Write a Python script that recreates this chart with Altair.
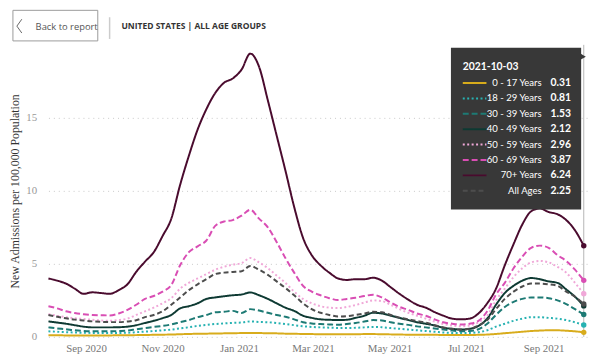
import altair as alt
import pandas as pd

# ---------------- data ----------------
series = ["0 - 17 Years", "18 - 29 Years", "30 - 39 Years", "40 - 49 Years",
          "50 - 59 Years", "60 - 69 Years", "70+ Years", "All Ages"]
colors = ["#D8AC1C", "#27B2B2", "#1D7A74", "#0E3A33",
          "#F0A8D8", "#D94EB4", "#4A0B2E", "#4D4D4D"]
dashes = [[1, 0], [2, 2.5], [6, 3], [1, 0], [2, 2.5], [6, 3], [1, 0], [5, 3]]

dates = pd.date_range("2020-08-02", "2021-10-03", freq="7D")

a0_17 = [0.11, 0.11, 0.10, 0.10, 0.10, 0.10, 0.10, 0.10, 0.11,
         0.11, 0.12, 0.13, 0.14, 0.15, 0.16, 0.18, 0.20,
         0.21, 0.22, 0.23, 0.24, 0.25, 0.26, 0.27, 0.26,
         0.25, 0.24, 0.22, 0.21, 0.20, 0.19, 0.18, 0.18,
         0.18, 0.18, 0.18, 0.19, 0.19, 0.18, 0.17, 0.16,
         0.15, 0.15, 0.14, 0.14, 0.13, 0.13, 0.13, 0.13,
         0.14, 0.16, 0.20, 0.25, 0.30, 0.35, 0.40, 0.43,
         0.45, 0.45, 0.42, 0.38, 0.31]
a18_29 = [0.38, 0.35, 0.32, 0.30, 0.28, 0.27, 0.27, 0.27, 0.27, 0.28,
          0.32, 0.36, 0.40, 0.45, 0.50, 0.58, 0.66, 0.75, 0.82, 0.88,
          0.92, 0.96, 0.98, 1.06, 1.02, 1.00, 0.95, 0.88, 0.80, 0.73,
          0.68, 0.65, 0.63, 0.61, 0.61, 0.62, 0.65, 0.68, 0.66, 0.60,
          0.55, 0.50, 0.45, 0.40, 0.35, 0.30, 0.27, 0.26, 0.27, 0.32,
          0.45, 0.70, 0.90, 1.10, 1.25, 1.35, 1.35, 1.30, 1.25, 1.15,
          1.00, 0.81]
a30_39 = [0.65, 0.58, 0.52, 0.45, 0.40, 0.38, 0.38, 0.38, 0.40, 0.43,
          0.52, 0.60, 0.68, 0.75, 0.85, 1.00, 1.15, 1.35, 1.50, 1.68,
          1.72, 1.78, 1.63, 1.90, 1.80, 1.65, 1.50, 1.38, 1.20, 1.00,
          0.92, 0.88, 0.85, 0.83, 0.88, 0.95, 1.05, 1.15, 1.12, 1.00,
          0.90, 0.82, 0.72, 0.65, 0.58, 0.50, 0.43, 0.38, 0.40, 0.52,
          0.90, 1.50, 2.05, 2.40, 2.60, 2.70, 2.70, 2.65, 2.50, 2.25,
          1.90, 1.53]
a40_49 = [1.06, 0.98, 0.90, 0.80, 0.70, 0.65, 0.65, 0.65, 0.66, 0.70,
          0.80, 0.95, 1.10, 1.28, 1.50, 1.95, 2.10, 2.30, 2.60, 2.70,
          2.78, 2.85, 2.90, 3.04, 2.85, 2.60, 2.30, 2.00, 1.78, 1.45,
          1.30, 1.20, 1.17, 1.15, 1.17, 1.30, 1.45, 1.65, 1.60, 1.45,
          1.30, 1.15, 1.00, 0.90, 0.78, 0.63, 0.55, 0.50, 0.55, 0.75,
          1.25, 2.20, 3.00, 3.50, 3.85, 4.03, 3.95, 3.80, 3.70, 3.25,
          2.75, 2.12]
a50_59 = [1.55, 1.45, 1.35, 1.28, 1.22, 1.17, 1.12, 1.10, 1.15, 1.25,
          1.50, 1.75, 2.00, 2.30, 2.65, 3.30, 3.70, 4.00, 4.30, 4.60,
          4.80, 4.95, 5.05, 5.40, 5.10, 4.70, 4.20, 3.70, 3.10, 2.60,
          2.30, 2.10, 2.00, 1.97, 2.05, 2.18, 2.35, 2.50, 2.45, 2.20,
          1.90, 1.65, 1.45, 1.25, 1.05, 0.88, 0.78, 0.73, 0.78, 1.00,
          1.45, 2.50, 3.30, 4.10, 4.70, 5.10, 5.20, 5.10, 4.80, 4.40,
          3.70, 2.96]
a60_69 = [2.10, 1.95, 1.75, 1.63, 1.55, 1.50, 1.48, 1.47, 1.60, 1.85,
          2.20, 2.60, 2.80, 3.10, 3.55, 4.90, 5.80, 6.20, 6.60, 7.60,
          7.90, 8.00, 8.30, 8.70, 8.10, 7.50, 6.50, 5.40, 4.40, 3.50,
          3.10, 2.85, 2.65, 2.52, 2.60, 2.68, 2.80, 2.88, 2.70, 2.35,
          2.05, 1.85, 1.60, 1.45, 1.20, 1.00, 0.90, 0.84, 0.90, 1.10,
          1.75, 2.90, 3.70, 4.70, 5.50, 6.10, 6.25, 6.10, 5.60, 5.20,
          4.60, 3.87]
a70 = [4.00, 3.85, 3.65, 3.30, 2.95, 3.05, 3.00, 2.95, 3.20, 3.60,
       4.45, 5.15, 5.80, 6.90, 8.10, 10.40, 12.40, 14.20, 15.60, 16.70,
       17.40, 17.70, 18.30, 19.40, 18.50, 16.20, 13.80, 11.40, 8.90, 6.80,
       5.60, 4.90, 4.40, 4.00, 3.90, 3.95, 3.95, 4.05, 3.85, 3.40,
       2.95, 2.55, 2.20, 2.00, 1.70, 1.45, 1.25, 1.20, 1.25, 1.60,
       2.30, 3.30, 4.90, 6.35, 7.70, 8.60, 8.80, 8.55, 8.40, 8.00,
       7.30, 6.24]
a_all = [1.50, 1.38, 1.27, 1.18, 1.12, 1.06, 1.03, 1.01, 1.01, 1.05,
         1.14, 1.35, 1.50, 1.75, 2.20, 2.70, 3.20, 3.60, 3.95, 4.30,
         4.40, 4.45, 4.50, 4.85, 4.60, 4.25, 3.80, 3.35, 2.85, 2.30,
         1.90, 1.65, 1.50, 1.40, 1.42, 1.50, 1.60, 1.72, 1.68, 1.50,
         1.32, 1.20, 1.08, 0.98, 0.80, 0.65, 0.55, 0.50, 0.55, 0.78,
         1.15, 1.90, 2.60, 3.10, 3.45, 3.65, 3.65, 3.60, 3.50, 3.10,
         2.75, 2.25]

all_values = [a0_17, a18_29, a30_39, a40_49, a50_59, a60_69, a70, a_all]

x_ticks = ["2020-09-01", "2020-11-01", "2021-01-01", "2021-03-01",
           "2021-05-01", "2021-07-01", "2021-09-01"]
y_ticks = [0, 5, 10, 15]

header_title = "UNITED STATES | ALL AGE GROUPS"
back_label = "Back to report"
y_title = "New Admissions per 100,000 Population"

# ---------------- tables ----------------
rows = []
for name, vals in zip(series, all_values):
    for d, v in zip(dates, vals):
        rows.append({"date": d, "series": name, "value": v})
df = pd.DataFrame(rows)
last_date = dates[-1]
last_df = df[df["date"] == last_date].copy()
tip_df = pd.DataFrame({"series": series,
                       "value": [v[-1] for v in all_values],
                       "row": list(range(len(series)))})
one = pd.DataFrame({"date": [last_date]})

# ---------------- encodings ----------------
FONT_SERIF = "Liberation Serif"
FONT_UI = "Lato"

x_scale = alt.Scale(domain=["2020-08-02T00:00:00", "2021-10-08T00:00:00"])
x_enc = alt.X("date:T", scale=x_scale,
              axis=alt.Axis(values=[pd.Timestamp(t).isoformat() for t in x_ticks],
                            format="%b %Y", title=None, grid=False,
                            domain=False, ticks=False, tickSize=0,
                            labelPadding=6, labelFont=FONT_SERIF,
                            labelFontSize=11, labelColor="#777777"))
y_enc = alt.Y("value:Q", scale=alt.Scale(domain=[0, 20], nice=False),
              axis=alt.Axis(values=y_ticks, title=y_title, grid=True,
                            gridDash=[1, 4], gridColor="#c8c8c8",
                            domain=False, ticks=False, tickSize=0,
                            labelPadding=12, labelFont=FONT_SERIF,
                            labelFontSize=11, labelColor="#999999",
                            titleFont=FONT_SERIF, titleFontSize=12,
                            titleFontWeight="normal", titleColor="#333333",
                            titlePadding=4))
color_enc = alt.Color("series:N", scale=alt.Scale(domain=series, range=colors),
                      legend=None)
dash_enc = alt.StrokeDash("series:N", scale=alt.Scale(domain=series, range=dashes),
                          legend=None)

rule = alt.Chart(one).mark_rule(color="#b5b5b5", strokeWidth=1).encode(x=x_enc)

lines = alt.Chart(df).mark_line(strokeWidth=2, interpolate="monotone").encode(
    x=x_enc, y=y_enc, color=color_enc, strokeDash=dash_enc, order="date:T")

dots = alt.Chart(last_df).mark_circle(size=30, opacity=1).encode(
    x=x_enc, y=alt.Y("value:Q"), color=color_enc)

# ---------------- tooltip panel ----------------
tip_box = alt.Chart(one).mark_rect(color="#383838").encode(
    x=alt.value(408), x2=alt.value(540), y=alt.value(3), y2=alt.value(167))
tip_arrow = alt.Chart(one).mark_point(shape="triangle-right", filled=True,
                                      color="#383838", size=40, opacity=1).encode(
    x=alt.value(542), y=alt.value(12))
tip_title = alt.Chart(one).mark_text(align="left", baseline="middle", color="white",
                                     font=FONT_UI, fontSize=10.5, fontWeight="bold").encode(
    x=alt.value(420), y=alt.value(22), text=alt.Text("date:T", format="%Y-%m-%d"))

tip_base = alt.Chart(tip_df).transform_calculate(py="38.7 + 15.6 * datum.row")
tip_sym = tip_base.mark_rule(strokeWidth=2).encode(
    x=alt.value(420), x2=alt.value(444), y=alt.Y("py:Q", scale=None),
    color=color_enc, strokeDash=dash_enc)
tip_lab = tip_base.mark_text(align="right", baseline="middle", color="white",
                             font=FONT_UI, fontSize=9.7).encode(
    x=alt.value(500), y=alt.Y("py:Q", scale=None), text="series:N")
tip_val = tip_base.mark_text(align="left", baseline="middle", color="white",
                             font=FONT_UI, fontSize=10.5, fontWeight="bold").encode(
    x=alt.value(509), y=alt.Y("py:Q", scale=None),
    text=alt.Text("value:Q", format=".2f"))

# ---------------- header ----------------
hdr_box = alt.Chart(one).mark_rect(fill="white", stroke="#9a9a9a", strokeWidth=1).encode(
    x=alt.value(-36), x2=alt.value(50), y=alt.value(-35), y2=alt.value(-4))
chev1 = alt.Chart(one).mark_rule(color="#666666", strokeWidth=1).encode(
    x=alt.value(-27), y=alt.value(-26), x2=alt.value(-32), y2=alt.value(-19))
chev2 = alt.Chart(one).mark_rule(color="#666666", strokeWidth=1).encode(
    x=alt.value(-32), y=alt.value(-19), x2=alt.value(-27), y2=alt.value(-12))
back_txt = alt.Chart(one).mark_text(align="left", baseline="middle", color="#555555",
                                    font="Open Sans", fontSize=9.5, text=back_label).encode(
    x=alt.value(-13), y=alt.value(-18))
sep = alt.Chart(one).mark_rule(color="#cccccc", strokeWidth=1.5).encode(
    x=alt.value(62), y=alt.value(-28), y2=alt.value(-6))
hdr_txt = alt.Chart(one).mark_text(align="left", baseline="middle", color="#333333",
                                   font="Open Sans", fontSize=8.6, fontWeight="bold",
                                   text=header_title).encode(
    x=alt.value(74), y=alt.value(-19))

chart = alt.layer(
    rule, lines, dots,
    tip_box, tip_arrow, tip_title, tip_sym, tip_lab, tip_val,
    hdr_box, chev1, chev2, back_txt, sep, hdr_txt
).properties(
    width=549, height=296,
    padding={"left": 41, "top": 35, "right": 2, "bottom": 15},
    autosize="none",
).configure_view(stroke=None)

chart.save("out.html", embed_options={"renderer": "svg", "actions": False})
